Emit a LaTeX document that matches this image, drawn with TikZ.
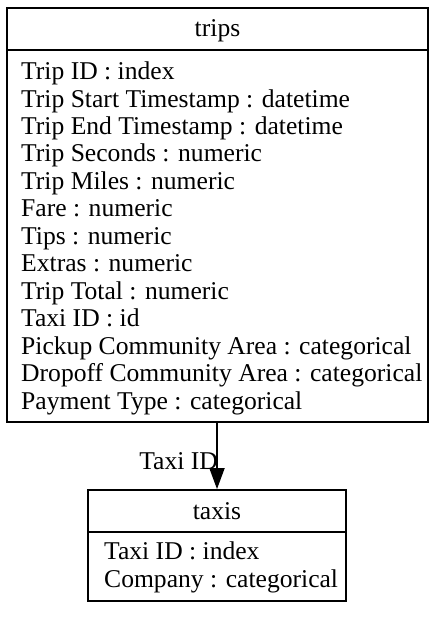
\documentclass[tikz,border=0pt]{standalone}
\usepackage{fontspec}
\setmainfont{Liberation Serif}
\usetikzlibrary{arrows.meta}
\begin{document}
\begin{tikzpicture}[x=1pt,y=-1pt,
  box/.style={draw, line width=1.8pt, inner sep=0pt, rectangle},
  txt/.style={inner sep=0pt, font=\fontsize{25.6}{27.45}\selectfont},
  conn/.style={line width=1.8pt, -{Triangle[length=21pt,width=15pt]}}]
\useasboundingbox (0,0) rectangle (446,639);
% trips
\node[box, minimum width=421pt, minimum height=42pt] (tripshead) at (217.5,29) {};
\node[box, minimum width=421pt, minimum height=372pt] (tripsbody) at (217.5,236) {};
\node[txt, anchor=base] (tripstitle) at (217.5,37) {trips};
\node[txt, anchor=base west, align=left] (tripsattr) at (21,409) {Trip ID : index\\
Trip Start Timestamp : datetime\\
Trip End Timestamp : datetime\\
Trip Seconds : numeric\\
Trip Miles : numeric\\
Fare : numeric\\
Tips : numeric\\
Extras : numeric\\
Trip Total : numeric\\
Taxi ID : id\\
Pickup Community Area : categorical\\
Dropoff Community Area : categorical\\
Payment Type : categorical};
% taxis
\node[box, minimum width=258pt, minimum height=42pt] (taxishead) at (217,511) {};
\node[box, minimum width=258pt, minimum height=69pt] (taxisbody) at (217,566.5) {};
\node[txt, anchor=base] (taxistitle) at (217,519) {taxis};
\node[txt, anchor=base west, align=left] (taxisattr) at (104,587) {Taxi ID : index\\
Company : categorical};
% edge
\draw[conn] (tripsbody.south -| taxishead.north) -- (taxishead.north);
\node[txt, anchor=base east] (edgelabel) at (218,469) {Taxi ID};
\end{tikzpicture}
\end{document}
